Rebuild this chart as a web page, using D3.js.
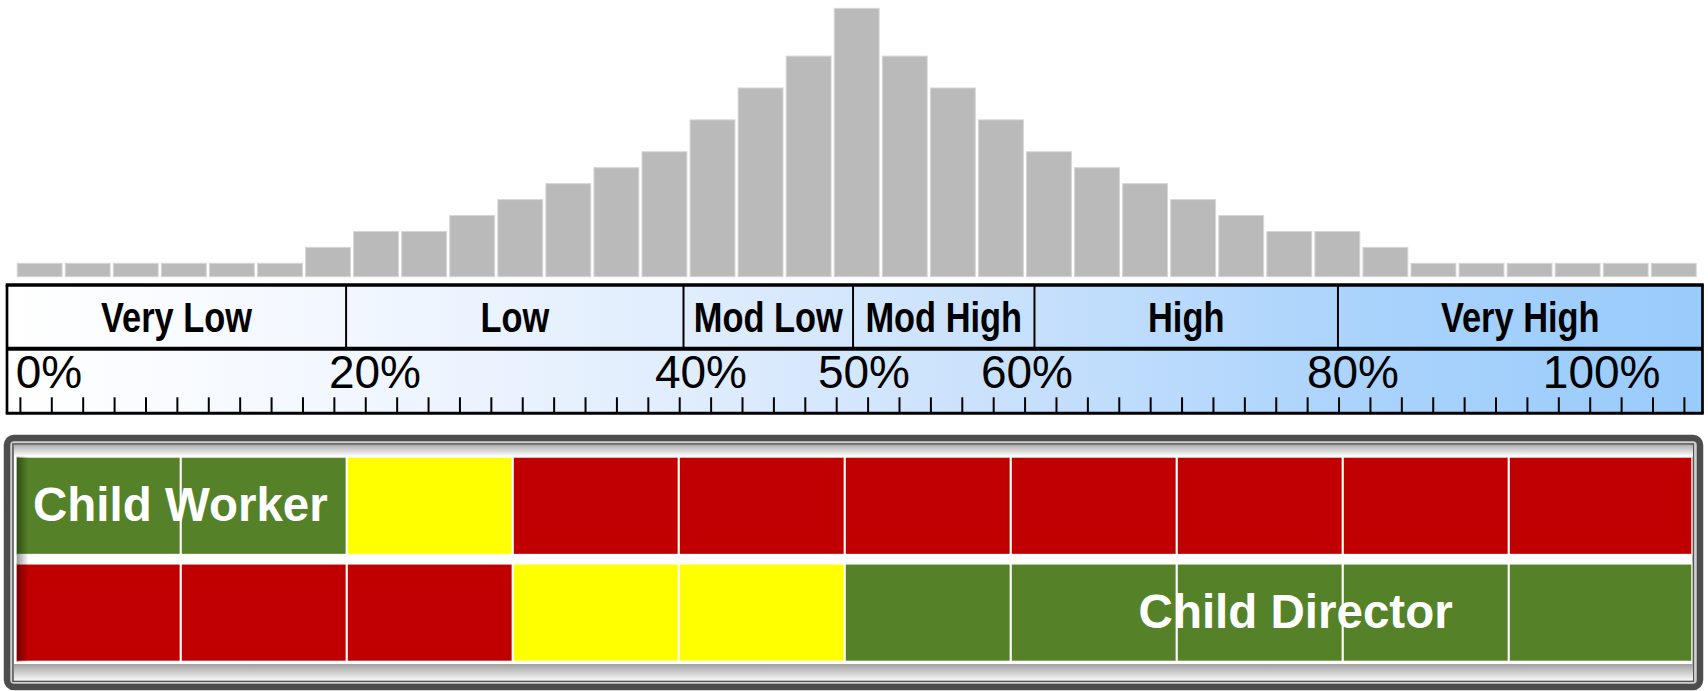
<!DOCTYPE html>
<html><head><meta charset="utf-8">
<script src="https://cdn.jsdelivr.net/npm/d3@7"></script>
<style>body{margin:0;background:#fff}svg{display:block}</style>
</head><body>
<svg id="chart" width="1708" height="691"></svg>
<script>
// ---------------- DATA ----------------
const histCounts = [1,1,1,1,1,1,2,3,3,4,5,6,7,8,10,12,14,17,14,12,10,8,7,6,5,4,3,3,2,1,1,1,1,1,1];
const bandNames = ["Very Low","Low","Mod Low","Mod High","High","Very High"];
const bandEdges = [0,20,39.9,49.9,60.6,78.5,100];
const percentValues = [0,20,40,50,60,80,100];
const percentLabels = ["0%","20%","40%","50%","60%","80%","100%"];
const rulerTickCount = 54;
const ratingColumns = [1,2,3,4,5,6,7,8,9,10];
const rowNames = ["Child Worker","Child Director"];
const workerRatings = ["green","green","yellow","red","red","red","red","red","red","red"];
const directorRatings = ["red","red","red","yellow","yellow","green","green","green","green","green"];
const rowLabelAt = [0.11, 6.77];
const ratingColors = {green:"#558229", yellow:"#ffff00", red:"#c00000"};

// ---------------- SETUP ----------------
const svg = d3.select("#chart");
const defs = svg.append("defs");

function lg(id, vertical, stops){
  const g = defs.append("linearGradient").attr("id", id)
    .attr("x1",0).attr("y1",0).attr("x2", vertical?0:1).attr("y2", vertical?1:0);
  stops.forEach(s => g.append("stop").attr("offset", s[0]).attr("stop-color", s[1]).attr("stop-opacity", s[2]==null?1:s[2]));
}
lg("boxGrad", false, [[0,"#ffffff"],[0.2,"#f2f7ff"],[0.4,"#e0edfd"],[0.6,"#c7e0fc"],[0.8,"#aad3fc"],[1,"#99cbfb"]]);
lg("topShade", true, [[0,"#b0b0b0"],[1,"#ffffff"]]);
lg("botShade", true, [[0,"#a0a0a0"],[1,"#f8f8f8"]]);
lg("leftShade", false, [[0,"#000",0.4],[1,"#000",0]]);

// ---------------- HISTOGRAM ----------------
const xHist = d3.scaleBand().domain(d3.range(histCounts.length))
  .range([15.6, 1697.8]).paddingInner(0.066).paddingOuter(0.033);
const yHist = d3.scaleLinear().domain([0.16, 17]).range([276.7, 8.3]);
svg.append("g").selectAll("rect").data(histCounts).join("rect")
  .attr("x", (d,i) => xHist(i))
  .attr("y", d => yHist(d))
  .attr("width", xHist.bandwidth())
  .attr("height", d => yHist(0.16) - yHist(d))
  .attr("fill", "#bababa")
  .attr("stroke", "#d6d6d6").attr("stroke-width", 1);

// ---------------- CATEGORY / RULER BOX ----------------
const boxL = 7, boxR = 1702.5, boxTop = 285, boxMid = 348.7, boxBot = 413.3;
const xPct = d3.scaleLinear().domain([0,100]).range([boxL, boxR]);
const box = svg.append("g");
box.append("rect").attr("x", boxL).attr("y", boxTop).attr("width", boxR-boxL).attr("height", boxBot-boxTop)
  .attr("fill", "url(#boxGrad)");

// category separators
box.selectAll("line.sep").data(bandEdges.slice(1,-1)).join("line").attr("class","sep")
  .attr("x1", d => xPct(d)).attr("x2", d => xPct(d))
  .attr("y1", boxTop).attr("y2", boxMid)
  .attr("stroke", "#000").attr("stroke-width", 2);

// category labels (narrow bold)
function textWidth(font, str){
  const t = svg.append("text").attr("style", "font:" + font).text(str);
  const w = t.node().getComputedTextLength(); t.remove(); return w;
}
const narrowW = textWidth("bold 42px 'Liberation Sans Narrow'", "Very Low");
const regW = textWidth("bold 42px 'Liberation Sans'", "Very Low");
const hasNarrow = narrowW < 0.9 * regW;
const catFont = hasNarrow ? "'Liberation Sans Narrow'" : "'Liberation Sans', Arial, sans-serif";
const catScale = hasNarrow ? 0.98 : 0.8;
box.selectAll("text.cat").data(bandNames).join("text").attr("class","cat")
  .attr("transform", (d,i) => `translate(${xPct((bandEdges[i]+bandEdges[i+1])/2)},331.8) scale(${catScale},1)`)
  .attr("text-anchor", "middle")
  .attr("font-family", catFont).attr("font-weight", "bold").attr("font-size", 43)
  .attr("fill", "#000")
  .text(d => d);

// ruler ticks via axis
const tickScale = d3.scaleLinear().domain([0, rulerTickCount-1]).range([19.9, 1683.9]);
const rulerAxis = d3.axisTop(tickScale).tickValues(d3.range(rulerTickCount)).tickSize(15).tickFormat("");
const rg = box.append("g").attr("transform", `translate(0,${boxBot-1})`).call(rulerAxis);
rg.select(".domain").remove();
rg.selectAll(".tick line").attr("stroke", "#000").attr("stroke-width", 2);

// percent labels
const labelScale = d3.scaleLinear().domain([0,100]).range([49, 1679]);
box.selectAll("text.pct").data(percentValues).join("text").attr("class","pct")
  .attr("text-anchor", "middle")
  .attr("y", 388.3)
  .attr("font-family", "'Liberation Sans', Arial, sans-serif").attr("font-size", 46)
  .attr("fill", "#000")
  .text((d,i) => percentLabels[i])
  .attr("x", function(d){
    const w = this.getComputedTextLength();
    return Math.max(boxL + w/2 + 5, Math.min(labelScale(d), boxR - w/2 - 42));
  });

// borders
const borders = [
  {x1:boxL-1.3, x2:boxR+1.3, y1:boxTop, y2:boxTop, w:3.5},
  {x1:boxL, x2:boxR, y1:boxMid, y2:boxMid, w:4},
  {x1:boxL-1.3, x2:boxR+1.3, y1:boxBot, y2:boxBot, w:3},
  {x1:boxL, x2:boxL, y1:boxTop, y2:boxBot, w:2.7},
  {x1:boxR, x2:boxR, y1:boxTop, y2:boxBot, w:2.7}
];
box.selectAll("line.border").data(borders).join("line").attr("class","border")
  .attr("x1", d=>d.x1).attr("x2", d=>d.x2).attr("y1", d=>d.y1).attr("y2", d=>d.y2)
  .attr("stroke", "#000").attr("stroke-width", d=>d.w);

// ---------------- RATING GRID ----------------
const frame = svg.append("g");
frame.append("rect").attr("x", 7).attr("y", 438).attr("width", 1693).attr("height", 249)
  .attr("rx", 7).attr("fill", "#cfcfcf").attr("stroke", "#4d4d4d").attr("stroke-width", 6.5);
frame.append("rect").attr("x", 13).attr("y", 444).attr("width", 1680.3).attr("height", 237.2)
  .attr("fill", "#ffffff").attr("stroke", "#555").attr("stroke-width", 1.6);

const gridL = 16.7, gridR = 1692.3;
const rowBand = d3.scaleBand().domain(d3.range(rowNames.length)).range([456.7, 661.7]).paddingInner(0.0814);
const colBand = d3.scaleBand().domain(d3.range(ratingColumns.length)).range([14.8, 1674.8]);
const colLin = d3.scaleLinear().domain([0, ratingColumns.length]).range([14.8, 1674.8]);

frame.append("rect").attr("x", 14).attr("y", 445).attr("width", 1679).attr("height", 11.7).attr("fill", "url(#topShade)");
frame.append("rect").attr("x", 14).attr("y", 664).attr("width", 1679).attr("height", 16.4).attr("fill", "url(#botShade)");

defs.append("clipPath").attr("id","gridClip").append("rect")
  .attr("x", gridL).attr("y", 440).attr("width", gridR-gridL).attr("height", 240);

const rows = [workerRatings, directorRatings];
const grid = frame.append("g").attr("clip-path", "url(#gridClip)");
rows.forEach((ratings, r) => {
  grid.append("g").selectAll("rect").data(ratings).join("rect")
    .attr("x", (d,i) => colBand(i))
    .attr("y", rowBand(r))
    .attr("width", (d,i) => i === ratings.length-1 ? gridR - colBand(i) : colBand.bandwidth())
    .attr("height", rowBand.bandwidth())
    .attr("fill", d => ratingColors[d])
    .attr("stroke", "#fff").attr("stroke-width", 2);
});
frame.append("rect").attr("x", gridL).attr("y", rowBand(0)).attr("width", 12)
  .attr("height", rowBand(1)+rowBand.bandwidth()-rowBand(0)).attr("fill", "url(#leftShade)");

frame.selectAll("text.row").data(rowNames).join("text").attr("class","row")
  .attr("x", (d,i) => colLin(rowLabelAt[i]))
  .attr("y", (d,i) => rowBand(i) + rowBand.bandwidth()/2 + 15)
  .attr("font-family", "'Liberation Sans', Arial, sans-serif").attr("font-weight", "bold").attr("font-size", 47.5)
  .attr("fill", "#fff")
  .text(d => d);
</script>
</body></html>
